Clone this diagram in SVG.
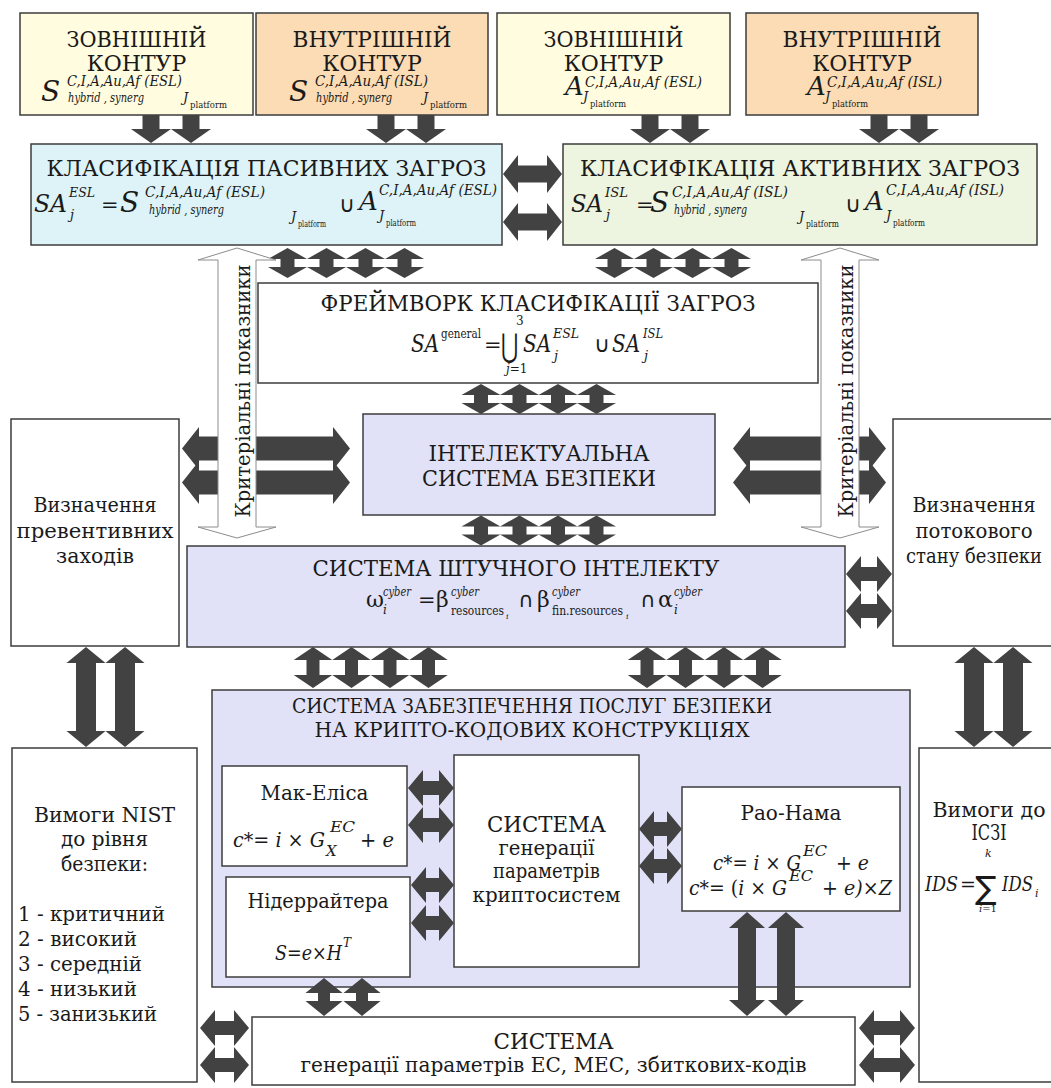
<svg xmlns="http://www.w3.org/2000/svg" width="1051" height="1088" viewBox="0 0 1051 1088" font-family="DejaVu Serif, serif">
<style>
  text { font-family: "DejaVu Serif", serif; fill: #1a1a1a; }
  .c { text-anchor: middle; }
  .h { font-size: 22px; }
  .l { font-size: 21px; }
  .it { font-style: italic; }
  .op { font-family: "DejaVu Sans", sans-serif; }
  .box { stroke: #3c3c3c; stroke-width: 1.5; }
  .ext { fill: #fffcdf; }
  .int { fill: #fbdcb4; }
  .pas { fill: #ddf3f7; }
  .act { fill: #edf4df; }
  .sys { fill: #e1e2f7; }
  .wht { fill: #ffffff; }
  .arr { fill: #424242; }
  .crit { fill: #ffffff; stroke: #8c8c8c; stroke-width: 1; }
</style>
<defs>
  <!-- single arrow pointing down, origin at top centre -->
  <path id="down" d="M-8.5,0 H8.5 V14 H20 L0,28 L-20,14 H-8.5 Z"/>
  <!-- short vertical double arrow, origin at top tip -->
  <path id="vs" d="M0,0 L19.5,11 H7 V19 H19.5 L0,30 L-19.5,19 H-7 V11 H-19.5 Z"/>
  <!-- medium vertical double arrow, origin at top tip -->
  <path id="vm" d="M0,0 L19.25,13 H6.5 V28 H19.25 L0,41 L-19.25,28 H-6.5 V13 H-19.25 Z"/>
</defs>

<!-- ===== outer / inner contours ===== -->
<g id="ext-contour-s">
  <rect class="box ext" x="20" y="13" width="233" height="102"/>
  <text class="c h" x="136.5" y="47" textLength="140" lengthAdjust="spacingAndGlyphs">ЗОВНІШНІЙ</text>
  <text class="c h" x="136.5" y="71">КОНТУР</text>
  <text class="it" x="41" y="101" font-size="28">S</text>
  <text class="it" x="67" y="86" font-size="14" textLength="115" lengthAdjust="spacingAndGlyphs">C,I,A,Au,Af (ESL)</text>
  <text class="it" x="68" y="102" font-size="13" textLength="76" lengthAdjust="spacingAndGlyphs">hybrid , synerg</text>
  <text class="it" x="183" y="102" font-size="13">J</text>
  <text x="190" y="108" font-size="10" textLength="37" lengthAdjust="spacingAndGlyphs">platform</text>
</g>
<g id="int-contour-s">
  <rect class="box int" x="256" y="13" width="232" height="102"/>
  <text class="c h" x="372" y="47" textLength="159" lengthAdjust="spacingAndGlyphs">ВНУТРІШНІЙ</text>
  <text class="c h" x="372" y="71">КОНТУР</text>
  <text class="it" x="289" y="101" font-size="28">S</text>
  <text class="it" x="315" y="86" font-size="14" textLength="113" lengthAdjust="spacingAndGlyphs">C,I,A,Au,Af (ISL)</text>
  <text class="it" x="316" y="102" font-size="13" textLength="76" lengthAdjust="spacingAndGlyphs">hybrid , synerg</text>
  <text class="it" x="423" y="102" font-size="13">J</text>
  <text x="430" y="108" font-size="10" textLength="37" lengthAdjust="spacingAndGlyphs">platform</text>
</g>
<g id="ext-contour-a">
  <rect class="box ext" x="497" y="13" width="233" height="102"/>
  <text class="c h" x="613.5" y="47" textLength="140" lengthAdjust="spacingAndGlyphs">ЗОВНІШНІЙ</text>
  <text class="c h" x="613.5" y="71">КОНТУР</text>
  <text class="it" x="565" y="95" font-size="26">A</text>
  <text class="it" x="585" y="87" font-size="14" textLength="117" lengthAdjust="spacingAndGlyphs">C,I,A,Au,Af (ESL)</text>
  <text class="it" x="583" y="101" font-size="13">J</text>
  <text x="590" y="107" font-size="10" textLength="36" lengthAdjust="spacingAndGlyphs">platform</text>
</g>
<g id="int-contour-a">
  <rect class="box int" x="746" y="13" width="232" height="102"/>
  <text class="c h" x="862" y="47" textLength="159" lengthAdjust="spacingAndGlyphs">ВНУТРІШНІЙ</text>
  <text class="c h" x="862" y="71">КОНТУР</text>
  <text class="it" x="807" y="95" font-size="26">A</text>
  <text class="it" x="827" y="87" font-size="14" textLength="115" lengthAdjust="spacingAndGlyphs">C,I,A,Au,Af (ISL)</text>
  <text class="it" x="825" y="101" font-size="13">J</text>
  <text x="832" y="107" font-size="10" textLength="36" lengthAdjust="spacingAndGlyphs">platform</text>
</g>

<!-- ===== threat classification ===== -->
<g id="passive-threats">
  <rect class="box pas" x="31" y="144" width="471" height="101"/>
  <text class="c h" x="266.5" y="176" textLength="440" lengthAdjust="spacingAndGlyphs">КЛАСИФІКАЦІЯ ПАСИВНИХ ЗАГРОЗ</text>
  <text class="it" x="34" y="212" font-size="25" textLength="33" lengthAdjust="spacingAndGlyphs">SA</text>
  <text class="it" x="69" y="197" font-size="13" textLength="26" lengthAdjust="spacingAndGlyphs">ESL</text>
  <text class="it" x="70" y="219" font-size="13">j</text>
  <text x="101" y="212" font-size="21">=</text>
  <text class="it" x="120" y="212" font-size="28">S</text>
  <text class="it" x="145" y="197" font-size="14" textLength="120" lengthAdjust="spacingAndGlyphs">C,I,A,Au,Af (ESL)</text>
  <text class="it" x="149" y="214" font-size="13" textLength="75" lengthAdjust="spacingAndGlyphs">hybrid , synerg</text>
  <text class="it" x="291" y="221" font-size="13">J</text>
  <text x="298" y="227" font-size="10" textLength="28" lengthAdjust="spacingAndGlyphs">platform</text>
  <text class="op" x="339" y="212" font-size="22">∪</text>
  <text class="it" x="359" y="210" font-size="26">A</text>
  <text class="it" x="379" y="195" font-size="14" textLength="118" lengthAdjust="spacingAndGlyphs">C,I,A,Au,Af (ESL)</text>
  <text class="it" x="379" y="220" font-size="13">J</text>
  <text x="386" y="226" font-size="10" textLength="30" lengthAdjust="spacingAndGlyphs">platform</text>
</g>
<g id="active-threats">
  <rect class="box act" x="563" y="144" width="474" height="101"/>
  <text class="c h" x="800" y="176" textLength="440" lengthAdjust="spacingAndGlyphs">КЛАСИФІКАЦІЯ АКТИВНИХ ЗАГРОЗ</text>
  <text class="it" x="571" y="212" font-size="25" textLength="32" lengthAdjust="spacingAndGlyphs">SA</text>
  <text class="it" x="605" y="197" font-size="13" textLength="23" lengthAdjust="spacingAndGlyphs">ISL</text>
  <text class="it" x="606" y="219" font-size="13">j</text>
  <text x="636" y="212" font-size="21">=</text>
  <text class="it" x="650" y="212" font-size="28">S</text>
  <text class="it" x="672" y="197" font-size="14" textLength="116" lengthAdjust="spacingAndGlyphs">C,I,A,Au,Af (ISL)</text>
  <text class="it" x="674" y="214" font-size="13" textLength="73" lengthAdjust="spacingAndGlyphs">hybrid , synerg</text>
  <text class="it" x="799" y="221" font-size="13">J</text>
  <text x="806" y="227" font-size="10" textLength="33" lengthAdjust="spacingAndGlyphs">platform</text>
  <text class="op" x="845" y="212" font-size="22">∪</text>
  <text class="it" x="865" y="210" font-size="26">A</text>
  <text class="it" x="886" y="195" font-size="14" textLength="118" lengthAdjust="spacingAndGlyphs">C,I,A,Au,Af (ISL)</text>
  <text class="it" x="886" y="220" font-size="13">J</text>
  <text x="893" y="226" font-size="10" textLength="32" lengthAdjust="spacingAndGlyphs">platform</text>
</g>

<!-- ===== framework ===== -->
<g id="framework">
  <rect class="box wht" x="258" y="283" width="560" height="100"/>
  <text class="c h" x="538" y="311" textLength="435" lengthAdjust="spacingAndGlyphs">ФРЕЙМВОРК КЛАСИФІКАЦІЇ ЗАГРОЗ</text>
  <text class="it" x="411" y="352" font-size="25" textLength="28" lengthAdjust="spacingAndGlyphs">SA</text>
  <text x="441" y="338" font-size="13" textLength="40" lengthAdjust="spacingAndGlyphs">general</text>
  <text x="484" y="352" font-size="21">=</text>
  <text class="op" transform="translate(501,357) scale(0.8,1.25)" font-size="26">⋃</text>
  <text x="516" y="325" font-size="12">3</text>
  <text x="506" y="373" font-size="12"><tspan class="it">j</tspan>=1</text>
  <text class="it" x="523" y="352" font-size="25" textLength="28" lengthAdjust="spacingAndGlyphs">SA</text>
  <text class="it" x="553" y="338" font-size="13" textLength="26" lengthAdjust="spacingAndGlyphs">ESL</text>
  <text class="it" x="554" y="360" font-size="13">j</text>
  <text class="op" x="594" y="352" font-size="22">∪</text>
  <text class="it" x="612" y="352" font-size="25" textLength="28" lengthAdjust="spacingAndGlyphs">SA</text>
  <text class="it" x="643" y="338" font-size="13" textLength="20" lengthAdjust="spacingAndGlyphs">ISL</text>
  <text class="it" x="644" y="360" font-size="13">j</text>
</g>

<!-- ===== middle layer ===== -->
<g id="intelligent-security">
  <rect class="box sys" x="363" y="414" width="352" height="101"/>
  <text class="c h" x="539" y="461" textLength="221" lengthAdjust="spacingAndGlyphs">ІНТЕЛЕКТУАЛЬНА</text>
  <text class="c h" x="539" y="486" textLength="234" lengthAdjust="spacingAndGlyphs">СИСТЕМА БЕЗПЕКИ</text>
</g>
<g id="preventive-measures">
  <rect class="box wht" x="11" y="419" width="168" height="227"/>
  <text class="c l" x="95" y="512" textLength="123" lengthAdjust="spacingAndGlyphs">Визначення</text>
  <text class="c l" x="95" y="538" textLength="157" lengthAdjust="spacingAndGlyphs">превентивних</text>
  <text class="c l" x="95" y="563" textLength="78" lengthAdjust="spacingAndGlyphs">заходів</text>
</g>
<g id="current-state">
  <rect class="box wht" x="893" y="419" width="170" height="227"/>
  <text class="c l" x="974" y="512" textLength="123" lengthAdjust="spacingAndGlyphs">Визначення</text>
  <text class="c l" x="974" y="538" textLength="117" lengthAdjust="spacingAndGlyphs">потокового</text>
  <text class="c l" x="974" y="563" textLength="136" lengthAdjust="spacingAndGlyphs">стану безпеки</text>
</g>
<g id="ai-system">
  <rect class="box sys" x="187" y="546" width="658" height="101"/>
  <text class="c h" x="516" y="576" textLength="407" lengthAdjust="spacingAndGlyphs">СИСТЕМА ШТУЧНОГО ІНТЕЛЕКТУ</text>
  <text x="366" y="607" font-size="22">ω</text>
  <text class="it" x="383" y="596" font-size="12" textLength="28" lengthAdjust="spacingAndGlyphs">cyber</text>
  <text class="it" x="383" y="614" font-size="12">i</text>
  <text x="418" y="607" font-size="21">=</text>
  <text x="436" y="607" font-size="22">β</text>
  <text class="it" x="451" y="596" font-size="12" textLength="28" lengthAdjust="spacingAndGlyphs">cyber</text>
  <text x="451" y="615" font-size="12" textLength="53" lengthAdjust="spacingAndGlyphs">resources</text>
  <text class="it" x="506" y="619" font-size="8">i</text>
  <text class="op" x="518" y="607" font-size="21">∩</text>
  <text x="537" y="607" font-size="22">β</text>
  <text class="it" x="552" y="596" font-size="12" textLength="28" lengthAdjust="spacingAndGlyphs">cyber</text>
  <text x="552" y="615" font-size="12" textLength="71" lengthAdjust="spacingAndGlyphs">fin.resources</text>
  <text class="it" x="626" y="619" font-size="8">i</text>
  <text class="op" x="640" y="607" font-size="21">∩</text>
  <text x="658" y="607" font-size="22">α</text>
  <text class="it" x="674" y="596" font-size="12" textLength="28" lengthAdjust="spacingAndGlyphs">cyber</text>
  <text class="it" x="674" y="614" font-size="12">i</text>
</g>

<!-- ===== crypto-code services ===== -->
<g id="crypto-services">
  <rect class="box sys" x="212" y="690" width="698" height="297"/>
  <text class="c" x="532" y="713" font-size="20" textLength="480" lengthAdjust="spacingAndGlyphs">СИСТЕМА ЗАБЕЗПЕЧЕННЯ ПОСЛУГ БЕЗПЕКИ</text>
  <text class="c" x="532" y="737" font-size="20" textLength="435" lengthAdjust="spacingAndGlyphs">НА КРИПТО-КОДОВИХ КОНСТРУКЦІЯХ</text>
</g>
<g id="mceliece">
  <rect class="box wht" x="222" y="766" width="185" height="100"/>
  <text class="c l" x="314.5" y="800" textLength="108" lengthAdjust="spacingAndGlyphs">Мак-Еліса</text>
  <text x="233" y="847" font-size="21" textLength="92" lengthAdjust="spacingAndGlyphs"><tspan class="it">c</tspan>*= <tspan class="it">i</tspan> × <tspan class="it">G</tspan></text>
  <text class="it" x="326" y="856" font-size="15">X</text>
  <text class="it" x="330" y="832" font-size="15" textLength="25" lengthAdjust="spacingAndGlyphs">EC</text>
  <text x="360" y="847" font-size="21" textLength="34" lengthAdjust="spacingAndGlyphs">+ <tspan class="it">e</tspan></text>
</g>
<g id="niederreiter">
  <rect class="box wht" x="226" y="877" width="184" height="100"/>
  <text class="c l" x="318" y="908" textLength="141" lengthAdjust="spacingAndGlyphs">Нідеррайтера</text>
  <text x="275" y="960" font-size="21" textLength="67" lengthAdjust="spacingAndGlyphs"><tspan class="it">S</tspan>=<tspan class="it">e</tspan>×<tspan class="it">H</tspan></text>
  <text class="it" x="343" y="947" font-size="12">T</text>
</g>
<g id="param-generator">
  <rect class="box wht" x="454" y="755" width="185" height="212"/>
  <text class="c h" x="546.5" y="832" textLength="119" lengthAdjust="spacingAndGlyphs">СИСТЕМА</text>
  <text class="c l" x="546.5" y="855" textLength="96" lengthAdjust="spacingAndGlyphs">генерації</text>
  <text class="c l" x="546.5" y="878" textLength="107" lengthAdjust="spacingAndGlyphs">параметрів</text>
  <text class="c l" x="546.5" y="902" textLength="148" lengthAdjust="spacingAndGlyphs">криптосистем</text>
</g>
<g id="rao-nam">
  <rect class="box wht" x="682" y="787" width="218" height="124"/>
  <text class="c l" x="791" y="820" textLength="101" lengthAdjust="spacingAndGlyphs">Рао-Нама</text>
  <text x="713" y="870" font-size="21" textLength="88" lengthAdjust="spacingAndGlyphs"><tspan class="it">c</tspan>*= <tspan class="it">i</tspan> × <tspan class="it">G</tspan></text>
  <text class="it" x="803" y="856" font-size="15" textLength="24" lengthAdjust="spacingAndGlyphs">EC</text>
  <text x="836" y="870" font-size="21" textLength="33" lengthAdjust="spacingAndGlyphs">+ <tspan class="it">e</tspan></text>
  <text x="689" y="895" font-size="21" textLength="98" lengthAdjust="spacingAndGlyphs"><tspan class="it">c</tspan>*= (<tspan class="it">i</tspan> × <tspan class="it">G</tspan></text>
  <text class="it" x="789" y="881" font-size="15" textLength="24" lengthAdjust="spacingAndGlyphs">EC</text>
  <text x="822" y="895" font-size="21" textLength="70" lengthAdjust="spacingAndGlyphs">+ <tspan class="it">e)</tspan>×<tspan class="it">Z</tspan></text>
</g>

<!-- ===== requirement boxes ===== -->
<g id="nist-requirements">
  <rect class="box wht" x="12" y="748" width="185" height="334"/>
  <text class="c l" x="104.5" y="822" textLength="141" lengthAdjust="spacingAndGlyphs">Вимоги NIST</text>
  <text class="c l" x="104.5" y="846" textLength="87" lengthAdjust="spacingAndGlyphs">до рівня</text>
  <text class="c l" x="104.5" y="871" textLength="87" lengthAdjust="spacingAndGlyphs">безпеки:</text>
  <text class="l" x="18" y="921" textLength="147" lengthAdjust="spacingAndGlyphs">1 - критичний</text>
  <text class="l" x="18" y="946" textLength="119" lengthAdjust="spacingAndGlyphs">2 - високий</text>
  <text class="l" x="18" y="971" textLength="124" lengthAdjust="spacingAndGlyphs">3 - середній</text>
  <text class="l" x="18" y="996" textLength="119" lengthAdjust="spacingAndGlyphs">4 - низький</text>
  <text class="l" x="18" y="1021" textLength="139" lengthAdjust="spacingAndGlyphs">5 - занизький</text>
</g>
<g id="iszi-requirements">
  <rect class="box wht" x="919" y="748" width="145" height="334"/>
  <text class="c l" x="989" y="817" textLength="113" lengthAdjust="spacingAndGlyphs">Вимоги до</text>
  <text class="c h" x="989" y="840" textLength="35" lengthAdjust="spacingAndGlyphs">ІСЗІ</text>
  <text class="it" x="925" y="891" font-size="20" textLength="33" lengthAdjust="spacingAndGlyphs">IDS</text>
  <text x="960" y="891" font-size="19">=</text>
  <text class="op" x="975" y="899" font-size="32">∑</text>
  <text class="it" x="985" y="857" font-size="11">k</text>
  <text x="979" y="912" font-size="10"><tspan class="it">i</tspan>=1</text>
  <text class="it" x="1002" y="891" font-size="20" textLength="31" lengthAdjust="spacingAndGlyphs">IDS</text>
  <text class="it" x="1035" y="897" font-size="11">i</text>
</g>
<g id="code-generator">
  <rect class="box wht" x="252" y="1017" width="603" height="68"/>
  <text class="c h" x="553.5" y="1049" textLength="120" lengthAdjust="spacingAndGlyphs">СИСТЕМА</text>
  <text class="c l" x="553.5" y="1072" textLength="506" lengthAdjust="spacingAndGlyphs">генерації параметрів ЕС, МЕС, збиткових-кодів</text>
</g>

<!-- ===== connectors ===== -->
<g id="connectors">
  <g class="arr">
    <!-- contours into classification -->
    <use href="#down" x="151" y="115"/>
    <use href="#down" x="191" y="115"/>
    <use href="#down" x="386" y="115"/>
    <use href="#down" x="426" y="115"/>
    <use href="#down" x="650" y="115"/>
    <use href="#down" x="690" y="115"/>
    <use href="#down" x="879" y="115"/>
    <use href="#down" x="919" y="115"/>
    <!-- passive <-> active -->
    <path d="M503,174 L518,155 V165.5 H547 V155 L562,174 L547,193 V182.5 H518 V193 Z"/>
    <path d="M503,222 L518,203 V213.5 H547 V203 L562,222 L547,241 V230.5 H518 V241 Z"/>
    <!-- classification <-> framework -->
    <use href="#vs" x="287.5" y="248"/>
    <use href="#vs" x="326.5" y="248"/>
    <use href="#vs" x="365.5" y="248"/>
    <use href="#vs" x="404.5" y="248"/>
    <use href="#vs" x="614.5" y="248"/>
    <use href="#vs" x="653.5" y="248"/>
    <use href="#vs" x="692.5" y="248"/>
    <use href="#vs" x="731.5" y="248"/>
    <!-- framework <-> intelligent system <-> AI system -->
    <use href="#vs" x="481" y="384"/>
    <use href="#vs" x="519.5" y="384"/>
    <use href="#vs" x="558" y="384"/>
    <use href="#vs" x="596.5" y="384"/>
    <use href="#vs" x="481" y="515.5"/>
    <use href="#vs" x="519.5" y="515.5"/>
    <use href="#vs" x="558" y="515.5"/>
    <use href="#vs" x="596.5" y="515.5"/>
    <!-- side boxes <-> intelligent system -->
    <path d="M182,448.5 L199,427 V436.5 H333 V427 L350,448.5 L333,470 V460.5 H199 V470 Z"/>
    <path d="M182,482.5 L199,461 V470.5 H333 V461 L350,482.5 L333,504 V494.5 H199 V504 Z"/>
    <path d="M733,448.5 L750,427 V436.5 H869 V427 L886,448.5 L869,470 V460.5 H750 V470 Z"/>
    <path d="M733,482.5 L750,461 V470.5 H869 V461 L886,482.5 L869,504 V494.5 H750 V504 Z"/>
    <!-- AI system <-> current state -->
    <path d="M846,574 L861,556 V567 H877 V556 L892,574 L877,592 V581 H861 V592 Z"/>
    <path d="M846,611 L861,593 V604 H877 V593 L892,611 L877,629 V618 H861 V629 Z"/>
    <!-- AI system <-> crypto services -->
    <use href="#vm" x="313" y="647"/>
    <use href="#vm" x="351.5" y="647"/>
    <use href="#vm" x="390" y="647"/>
    <use href="#vm" x="428.5" y="647"/>
    <use href="#vm" x="647" y="647"/>
    <use href="#vm" x="685.5" y="647"/>
    <use href="#vm" x="724" y="647"/>
    <use href="#vm" x="762.5" y="647"/>
    <!-- side boxes <-> requirement boxes -->
    <path d="M86,647 L105.5,663 H96 V731 H105.5 L86,747 L66.5,731 H76 V663 H66.5 Z"/>
    <path d="M125,647 L144.5,663 H135 V731 H144.5 L125,747 L105.5,731 H115 V663 H105.5 Z"/>
    <path d="M974,647 L993.5,663 H984 V731 H993.5 L974,747 L954.5,731 H964 V663 H954.5 Z"/>
    <path d="M1013,647 L1032.5,663 H1023 V731 H1032.5 L1013,747 L993.5,731 H1003 V663 H993.5 Z"/>
    <!-- crypto schemes <-> parameter generator -->
    <path d="M408,788 L423,770 V781 H439 V770 L454,788 L439,806 V795 H423 V806 Z"/>
    <path d="M408,825 L423,807 V818 H439 V807 L454,825 L439,843 V832 H423 V843 Z"/>
    <path d="M411,885 L426,867 V878 H439 V867 L454,885 L439,903 V892 H426 V903 Z"/>
    <path d="M411,923 L426,905 V916 H439 V905 L454,923 L439,941 V930 H426 V941 Z"/>
    <path d="M639,829 L654,811 V822 H667 V811 L682,829 L667,847 V836 H654 V847 Z"/>
    <path d="M639,866 L654,848 V859 H667 V848 L682,866 L667,884 V873 H654 V884 Z"/>
    <!-- schemes <-> code generator -->
    <path d="M324,978 L342.5,993 H330 V1001 H342.5 L324,1016 L305.5,1001 H318 V993 H305.5 Z"/>
    <path d="M362,978 L380.5,993 H368 V1001 H380.5 L362,1016 L343.5,1001 H356 V993 H343.5 Z"/>
    <path d="M747,912 L765,928 H756 V1000 H765 L747,1016 L729,1000 H738 V928 H729 Z"/>
    <path d="M786,912 L804,928 H795 V1000 H804 L786,1016 L768,1000 H777 V928 H768 Z"/>
    <!-- requirement boxes <-> code generator -->
    <path d="M200,1028 L215,1010 V1021 H234 V1010 L249,1028 L234,1046 V1035 H215 V1046 Z"/>
    <path d="M200,1065 L215,1047 V1058 H234 V1047 L249,1065 L234,1083 V1072 H215 V1083 Z"/>
    <path d="M859,1028 L874,1010 V1021 H900 V1010 L915,1028 L900,1046 V1035 H874 V1046 Z"/>
    <path d="M859,1065 L874,1047 V1058 H900 V1047 L915,1065 L900,1083 V1072 H874 V1083 Z"/>
  </g>
  <!-- criterial indicator arrows -->
  <path class="crit" d="M237,248 L276,260 H256 V527 H276 L237,538 L198,527 H218 V260 H198 Z"/>
  <path class="crit" d="M840,248 L879,260 H859 V527 H879 L840,538 L801,527 H821 V260 H801 Z"/>
  <text class="c l" transform="translate(250,391) rotate(-90)" textLength="253" lengthAdjust="spacingAndGlyphs">Критеріальні показники</text>
  <text class="c l" transform="translate(853,391) rotate(-90)" textLength="253" lengthAdjust="spacingAndGlyphs">Критеріальні показники</text>
</g>
</svg>
